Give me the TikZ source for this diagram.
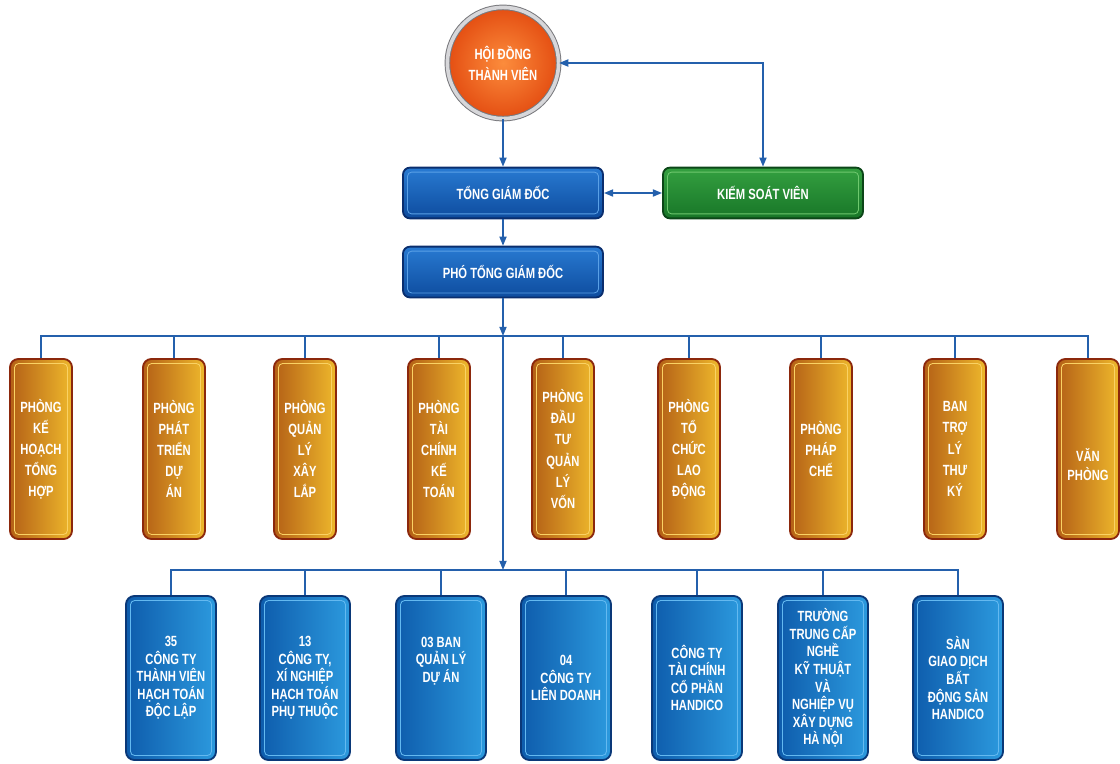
\documentclass[tikz,border=0pt]{standalone}
\usepackage{fontspec}
\setmainfont{Liberation Sans}[FakeStretch=0.76]
\usetikzlibrary{positioning, arrows.meta}

\definecolor{linkblue}{RGB}{36,96,172}
\definecolor{ringdark}{RGB}{120,120,124}
\definecolor{ringlight}{RGB}{215,215,218}
\definecolor{councilin}{RGB}{252,140,60}
\definecolor{councilout}{RGB}{228,78,18}
\definecolor{headtop}{RGB}{40,122,210}
\definecolor{headbot}{RGB}{14,76,158}
\definecolor{headedge}{RGB}{10,46,110}
\definecolor{headline}{RGB}{90,160,230}
\definecolor{ctrltop}{RGB}{52,160,64}
\definecolor{ctrlbot}{RGB}{24,118,40}
\definecolor{ctrledge}{RGB}{12,70,24}
\definecolor{ctrlline}{RGB}{110,200,110}
\definecolor{deptleft}{RGB}{180,96,22}
\definecolor{deptright}{RGB}{238,184,44}
\definecolor{deptedge}{RGB}{140,40,12}
\definecolor{deptline}{RGB}{250,210,100}
\definecolor{unitleft}{RGB}{14,92,172}
\definecolor{unitright}{RGB}{44,154,222}
\definecolor{unitedge}{RGB}{10,56,120}
\definecolor{unitline}{RGB}{100,185,240}

\begin{document}
\begin{tikzpicture}[x=0.025cm, y=-0.025cm,
    every node/.style={font=\fontsize{10.5}{15}\selectfont\bfseries, text=white, align=center},
    link/.style={draw=linkblue, line width=1.2pt},
    tip/.style={-{Triangle[length=6.5pt,width=5pt]}},
    tips/.style={{Triangle[length=6.5pt,width=5pt]}-{Triangle[length=6.5pt,width=5pt]}},
    inner line/.style={path picture={\draw[#1, line width=0.6pt, rounded corners=3pt]
        ([shift={(3.2pt,-3.2pt)}]path picture bounding box.north west) rectangle
        ([shift={(-3.2pt,3.2pt)}]path picture bounding box.south east);}},
    council/.style={circle, minimum size=2.78cm, inner color=councilin, outer color=councilout,
        draw=ringdark, double=ringlight, double distance=2.6pt, line width=0.7pt},
    head/.style={draw=headedge, line width=1.3pt, rounded corners=5pt, top color=headtop,
        bottom color=headbot, minimum width=5cm, minimum height=1.27cm, inner line=headline},
    ctrl/.style={head, draw=ctrledge, top color=ctrltop, bottom color=ctrlbot, inner line=ctrlline},
    dept/.style={draw=deptedge, line width=1.3pt, rounded corners=6pt, left color=deptleft,
        right color=deptright, minimum width=1.55cm, minimum height=4.5cm, inner sep=1pt, inner line=deptline},
    unit/.style={draw=unitedge, line width=1.3pt, rounded corners=6pt, left color=unitleft,
        right color=unitright, minimum width=2.25cm, minimum height=4.1cm, inner sep=1pt,
        font=\fontsize{10.5}{12.5}\selectfont\bfseries, inner line=unitline}]

  \useasboundingbox (0,0) rectangle (1120,764);

  % top of the chart
  \node [council] (hdtv) at (503,63) {HỘI ĐỒNG\\THÀNH VIÊN};
  \node [head] (tgd) at (503,193) {TỔNG GIÁM ĐỐC};
  \node [ctrl] (ksv) at (763,193) {KIẾM SOÁT VIÊN};
  \node [head, below=0.66cm of tgd] (ptgd) {PHÓ TỔNG GIÁM ĐỐC};

  % departments
  \node [dept] (pkh) at (41,449) {PHÒNG\\KẾ\\HOẠCH\\TỔNG\\HỢP};
  \node [dept] (ppt) at (174,449) {PHÒNG\\PHÁT\\TRIỂN\\DỰ\\ÁN};
  \node [dept] (pql) at (305,449) {PHÒNG\\QUẢN\\LÝ\\XÂY\\LẮP};
  \node [dept] (ptc) at (439,449) {PHÒNG\\TÀI\\CHÍNH\\KẾ\\TOÁN};
  \node [dept] (pdt) at (563,449) {PHÒNG\\ĐẦU\\TƯ\\QUẢN\\LÝ\\VỐN};
  \node [dept] (ptl) at (689,449) {PHÒNG\\TỔ\\CHỨC\\LAO\\ĐỘNG};
  \node [dept] (ppc) at (821,449) {PHÒNG\\PHÁP\\CHẾ};
  \node [dept] (btl) at (955,449) {BAN\\TRỢ\\LÝ\\THƯ\\KÝ};
  \node [dept, label={[yshift=-11pt, font=\fontsize{10.5}{13}\selectfont\bfseries]center:VĂN\\PHÒNG}] (vp) at (1088,449) {};

  % member units
  \node [unit] (ct35) at (171,678) {35\\CÔNG TY\\THÀNH VIÊN\\HẠCH TOÁN\\ĐỘC LẬP};
  \node [unit] (ct13) at (305,678) {13\\CÔNG TY,\\XÍ NGHIỆP\\HẠCH TOÁN\\PHỤ THUỘC};
  \node [unit, label={[yshift=12pt, font=\fontsize{10.5}{12.5}\selectfont\bfseries]center:03 BAN\\QUẢN LÝ\\DỰ ÁN}] (bql) at (441,678) {};
  \node [unit] (ctld) at (566,678) {04\\CÔNG TY\\LIÊN DOANH};
  \node [unit] (cttc) at (697,678) {CÔNG TY\\TÀI CHÍNH\\CỔ PHẦN\\HANDICO};
  \node [unit] (tcn) at (823,678) {TRƯỜNG\\TRUNG CẤP\\NGHỀ\\KỸ THUẬT\\VÀ\\NGHIỆP VỤ\\XÂY DỰNG\\HÀ NỘI};
  \node [unit] (sgd) at (958,678) {SÀN\\GIAO DỊCH\\BẤT\\ĐỘNG SẢN\\HANDICO};

  \coordinate (busk) at (503,336);
  \coordinate (busu) at (503,570);

  % connectors
  \draw [link, tip] (hdtv) -- (tgd);
  \draw [link, tips] (ksv.north) |- (hdtv.east);
  \draw [link, tips] (tgd.east) -- (ksv.west);
  \draw [link, tip] (tgd) -- (ptgd);
  \draw [link, tip] (ptgd.south) -- (busk);
  \draw [link, tip] (busk) -- (busu);
  \draw [link] (pkh.north) |- (busk) -| (vp.north);
  \draw [link] (ppt.north) -- (ppt.north |- busk)
               (pql.north) -- (pql.north |- busk)
               (ptc.north) -- (ptc.north |- busk)
               (pdt.north) -- (pdt.north |- busk)
               (ptl.north) -- (ptl.north |- busk)
               (ppc.north) -- (ppc.north |- busk)
               (btl.north) -- (btl.north |- busk);
  \draw [link] (ct35.north) |- (busu) -| (sgd.north);
  \draw [link] (ct13.north) -- (ct13.north |- busu)
               (bql.north) -- (bql.north |- busu)
               (ctld.north) -- (ctld.north |- busu)
               (cttc.north) -- (cttc.north |- busu)
               (tcn.north) -- (tcn.north |- busu);
\end{tikzpicture}
\end{document}
